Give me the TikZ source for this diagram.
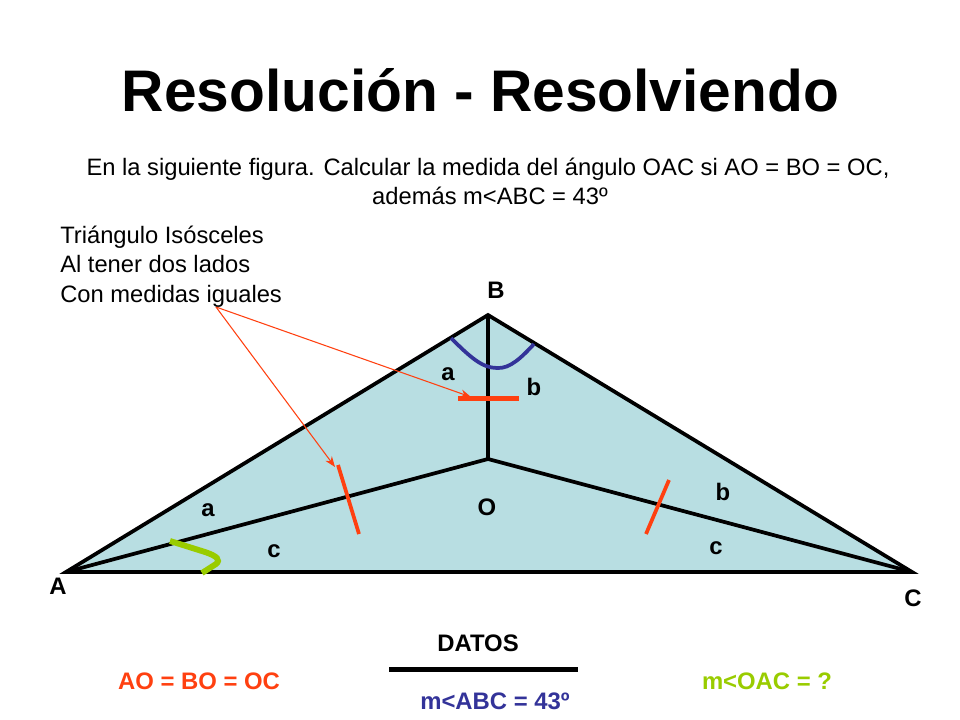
\documentclass[tikz,border=0pt]{standalone}
\usepackage{fontspec}
\setmainfont{Liberation Sans}
\usetikzlibrary{arrows.meta}
\definecolor{tealfill}{RGB}{184,222,226}
\definecolor{redo}{RGB}{255,64,16}
\definecolor{navy}{RGB}{51,51,153}
\definecolor{lime}{RGB}{153,204,0}
\tikzset{x=0.75pt,y=-0.75pt,
 lbl/.style={font=\fontsize{17.9}{18}\selectfont\bfseries,inner sep=0pt,anchor=base},
 txt/.style={font=\fontsize{17.8}{20}\selectfont,inner sep=0pt,anchor=base west},
 edge/.style={draw=black,line width=2.8pt},
 tick/.style={draw=redo,line width=2.8pt},
 pointer/.style={draw=redo,line width=0.8pt,-{Stealth[length=8pt,width=6pt]}}}
\begin{document}
\begin{tikzpicture}
\useasboundingbox (0,0) rectangle (960,720);
\coordinate (A) at (66,572);
\coordinate (B) at (488,315);
\coordinate (C) at (912,572);
\coordinate (O) at (488,459);
\coordinate (P) at (216,307);
\coordinate (T1) at (471,397);
\coordinate (T2) at (335,467);
\fill[tealfill] (A)--(B)--(C)--cycle;
\draw[edge,line join=miter] (A)--(B)--(C)--cycle;
\draw[edge] (B)--(O) (A)--(O)--(C);
\draw[draw=navy,line width=2.8pt] (451,338) .. controls (470,357) and (482,368) .. (497,368) .. controls (510,369) and (522,357) .. (534,344);
\draw[draw=lime,line width=4.4pt] (170,541) -- (205,552) .. controls (217,556) and (221,560) .. (216,564) -- (202,573);
\draw[tick,line width=3.4pt] (458,398.4)--(519,398.4);
\draw[tick] (338,465)--(359,534);
\draw[tick] (669,480)--(646,534);
\draw[pointer] (P)--(T1);
\draw[pointer] (P)--(T2);
\draw[line width=3.2pt] (389,669.5)--(578,669.5);
\node[inner sep=0pt,anchor=base,font=\fontsize{44}{44}\selectfont\bfseries] (title) at (480.5,112) {Resolución - Resolviendo};
\node[txt,anchor=base] (l1) at (488,176) {En la siguiente figura. Calcular la medida del ángulo OAC si AO = BO = OC,};
\node[txt,anchor=base] (l2) at (490,205) {además m<ABC = 43º};
\node[txt] (t1) at (60,244) {Triángulo Isósceles};
\node[txt] (t2) at (60,273) {Al tener dos lados};
\node[txt] (t3) at (60,302) {Con medidas iguales};
\node[lbl] (nB) at (496,298) {B};
\node[lbl] (nA) at (58,594) {A};
\node[lbl] (nC) at (913,606) {C};
\node[lbl] (nO) at (487,515) {O};
\node[lbl] (a1) at (448,380) {a};
\node[lbl] (b1) at (534,395) {b};
\node[lbl] (a2) at (208,516) {a};
\node[lbl] (c1) at (274,557) {c};
\node[lbl] (b2) at (723,500) {b};
\node[lbl] (c2) at (716,554) {c};
\node[lbl] (d) at (478,651) {DATOS};
\node[lbl,text=redo] (e1) at (199,689) {AO = BO = OC};
\node[lbl,text=navy] (e2) at (495,709) {m<ABC = 43º};
\node[lbl,text=lime] (e3) at (767,689) {m<OAC = ?};
\end{tikzpicture}
\end{document}
